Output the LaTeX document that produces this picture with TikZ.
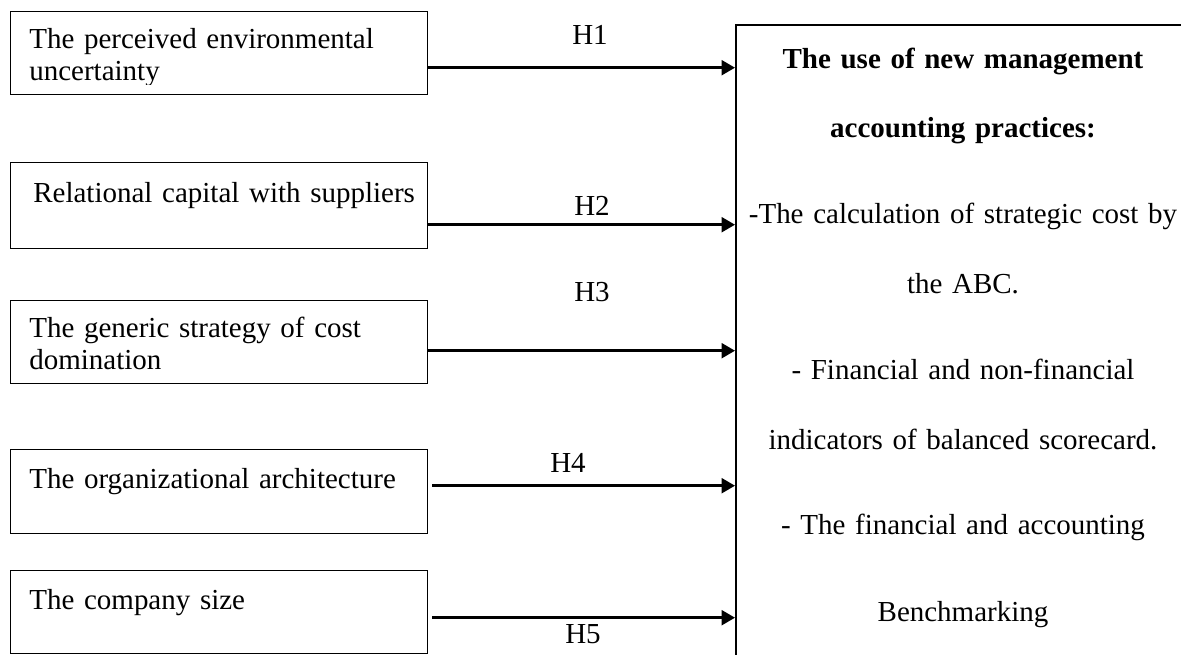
\documentclass[tikz,border=0pt]{standalone}
\usepackage{fontspec}
\setmainfont{Liberation Serif}
\usepackage{tikz}
\usetikzlibrary{arrows.meta}

\begin{document}
\begin{tikzpicture}[x=0.02cm,y=-0.02cm,
  factor/.style={draw,line width=0.8pt,minimum width=8.34cm,anchor=north west},
  ftext/.style={anchor=base west,inner sep=0pt,text width=7.9cm,align=left,font=\fontsize{16.5}{18.5}\selectfont},
  hyp/.style={line width=1.4pt,-{Triangle[length=0.27cm,width=0.3cm]}},
  hlabel/.style={inner sep=1pt,font=\fontsize{16.5}{18.5}\selectfont}]
\clip (0,0) rectangle (1181,654);

% dependent variable
\node[draw,line width=1.4pt,minimum width=12cm,minimum height=14cm,anchor=north west] (use) at (735,24) {};
\node[anchor=base,inner sep=0pt,text width=8.8cm,align=center,font=\fontsize{16.5}{39.8}\selectfont] (usetxt) at (963,68)
  {\textbf{The use of new management}\\
   \textbf{accounting practices:}\\[0.32cm]
   -The calculation of strategic cost by\\
   the ABC.\\[0.32cm]
   - Financial and non-financial\\
   indicators of balanced scorecard.\\[0.3cm]
   - The financial and accounting\\[0.34cm]
   Benchmarking};

% explanatory factors
\node[factor,minimum height=1.66cm] (b1) at (10,11) {};
\node[factor,minimum height=1.72cm] (b2) at (10,162) {};
\node[factor,minimum height=1.66cm] (b3) at (10,300) {};
\node[factor,minimum height=1.68cm] (b4) at (10,449) {};
\node[factor,minimum height=1.66cm] (b5) at (10,570) {};

\begin{scope}
\clip (10,11) rectangle (427,84);
\node[ftext] (t1) at (29,48) {The perceived environmental\\uncertainty};
\end{scope}
\node[ftext] (t2) at (33,202) {Relational capital with suppliers};
\node[ftext] (t3) at (29,337) {The generic strategy of cost\\domination};
\node[ftext] (t4) at (29,488) {The organizational architecture};
\node[ftext] (t5) at (29,609) {The company size};

% hypotheses
\coordinate (a1) at ([yshift=-0.29cm]b1.east);
\coordinate (a2) at ([yshift=-0.38cm]b2.east);
\coordinate (a3) at ([yshift=-0.17cm]b3.east);
\coordinate (a4) at ([xshift=0.08cm,yshift=0.12cm]b4.east);
\coordinate (a5) at ([xshift=0.08cm,yshift=-0.11cm]b5.east);
\draw[hyp] (a1) -- (a1 -| use.west);
\draw[hyp] (a2) -- (a2 -| use.west);
\draw[hyp] (a3) -- (a3 -| use.west);
\draw[hyp] (a4) -- (a4 -| use.west);
\draw[hyp] (a5) -- (a5 -| use.west);

\node[hlabel] (h1) at (590,34.5) {H1};
\node[hlabel] (h2) at (592,205.5) {H2};
\node[hlabel] (h3) at (592,292.5) {H3};
\node[hlabel] (h4) at (568,462.5) {H4};
\node[hlabel] (h5) at (583,634) {H5};
\end{tikzpicture}
\end{document}
